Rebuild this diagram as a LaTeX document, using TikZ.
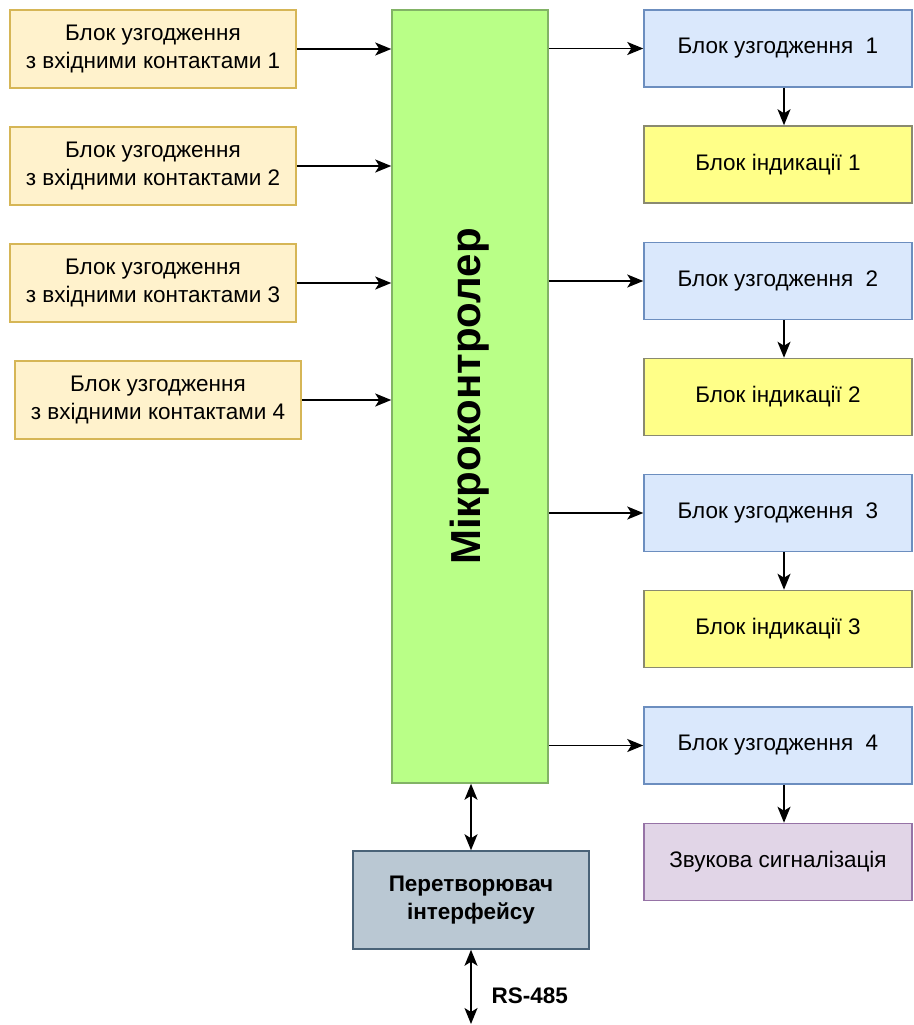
\documentclass[tikz,border=0pt]{standalone}
\usepackage{fontspec}
\setmainfont{Liberation Sans}
\usetikzlibrary{arrows.meta}
\definecolor{inFill}{HTML}{FFF2CC}
\definecolor{inLine}{HTML}{D6B656}
\definecolor{mcFill}{HTML}{B9FF87}
\definecolor{mcLine}{HTML}{82B366}
\definecolor{mtFill}{HTML}{DAE8FC}
\definecolor{mtLine}{HTML}{6C8EBF}
\definecolor{indFill}{HTML}{FFFF88}
\definecolor{indLine}{HTML}{8A8A70}
\definecolor{sndFill}{HTML}{E1D5E7}
\definecolor{sndLine}{HTML}{9673A6}
\definecolor{cvFill}{HTML}{BAC8D3}
\definecolor{cvLine}{HTML}{4A6378}
\tikzset{
  box/.style={draw, line width=1.5pt, inner sep=0pt, align=center, font=\fontsize{22.5}{28}\selectfont},
  inblock/.style={box, fill=inFill, draw=inLine, minimum width=286pt, minimum height=78pt},
  mtblock/.style={box, fill=mtFill, draw=mtLine, minimum width=268pt, minimum height=77pt},
  indblock/.style={box, fill=indFill, draw=indLine, minimum width=268pt, minimum height=77pt},
  sndblock/.style={box, fill=sndFill, draw=sndLine, minimum width=268pt, minimum height=77pt},
  tip/.style={Stealth[length=16pt,width=13pt,inset=4pt]},
  conn/.style={line width=1.7pt, -{Stealth[length=16pt,width=13pt,inset=4pt]}},
  bconn/.style={line width=1.7pt, {Stealth[length=16pt,width=13pt,inset=4pt]}-{Stealth[length=16pt,width=13pt,inset=4pt]}}
}
\begin{document}
\begin{tikzpicture}[x=1pt,y=-1pt]
\useasboundingbox (0,0) rectangle (913,1025);
% input matching blocks
\node[inblock] (in1) at (153,49) {Блок узгодження\\з вхідними контактами 1};
\node[inblock] (in2) at (153,166) {Блок узгодження\\з вхідними контактами 2};
\node[inblock] (in3) at (153,283) {Блок узгодження\\з вхідними контактами 3};
\node[inblock] (in4) at (158,400) {Блок узгодження\\з вхідними контактами 4};
% microcontroller
\node[box, fill=mcFill, draw=mcLine, minimum width=156pt, minimum height=773pt] (mc) at (470,396.5) {};
\node[rotate=90, font=\fontsize{42}{48}\selectfont\bfseries] (mclabel) at (mc.center) {Мікроконтролер};
% output matching and indication blocks
\node[mtblock] (m1) at (778,48.5) {Блок узгодження\ \ 1};
\node[indblock] (d1) at (778,164.5) {Блок індикації 1};
\node[mtblock] (m2) at (778,281) {Блок узгодження\ \ 2};
\node[indblock] (d2) at (778,397) {Блок індикації 2};
\node[mtblock] (m3) at (778,513) {Блок узгодження\ \ 3};
\node[indblock] (d3) at (778,629) {Блок індикації 3};
\node[mtblock] (m4) at (778,745.5) {Блок узгодження\ \ 4};
\node[sndblock] (s4) at (778,862) {Звукова сигналізація};
% interface converter
\node[box, fill=cvFill, draw=cvLine, minimum width=236pt, minimum height=98pt, font=\fontsize{22.5}{28}\selectfont\bfseries] (cv) at (471,900) {Перетворювач\\інтерфейсу};
\coordinate (bus) at (471,1024);
\node[font=\fontsize{22.5}{26}\selectfont\bfseries, anchor=west] (rs) at (488,996) {RS-485};
% connectors
\foreach \i in {1,2,3,4} \draw[conn] (in\i.east) -- (in\i.east -| mc.west);
\foreach \i in {1,2,3,4} \draw[conn] (mc.east |- m\i.west) -- (m\i.west);
\foreach \i in {1,2,3} \draw[conn] ([xshift=6pt]m\i.south) -- ([xshift=6pt]d\i.north);
\draw[conn] ([xshift=6pt]m4.south) -- ([xshift=6pt]s4.north);
\draw[bconn] (mc.south -| cv.north) -- (cv.north);
\draw[bconn] (cv.south) -- (bus);
\end{tikzpicture}
\end{document}
